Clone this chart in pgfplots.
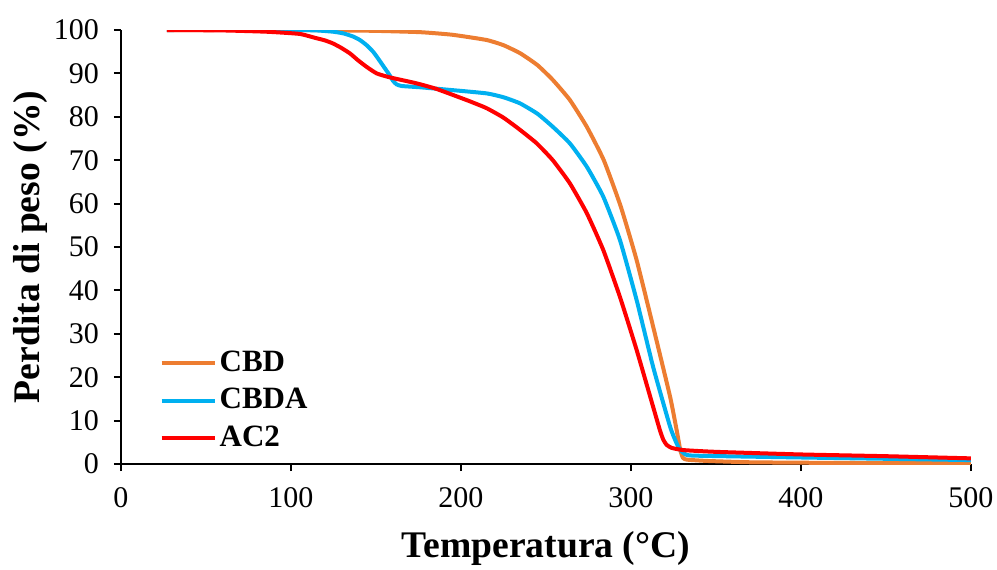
\documentclass[border=0pt]{standalone}
\usepackage{fontspec}
\setmainfont{Liberation Serif}
\usepackage{pgfplots}
\pgfplotsset{compat=1.18}

\definecolor{cbd}{RGB}{237,125,49}
\definecolor{cbda}{RGB}{0,176,240}
\definecolor{ac2}{RGB}{255,0,0}

\begin{document}
\begin{tikzpicture}
% page = axis box plus the margins of the reference
\useasboundingbox (-60.5pt,-52.5pt) rectangle (438pt,232pt);
\begin{axis}[
    at={(0pt,0pt)}, anchor=south west,
    scale only axis,
    width=425pt,
    height=217pt,
    xmin=0, xmax=500,
    ymin=0, ymax=100,
    xtick={0,100,...,500},
    ytick={0,10,...,100},
    axis lines*=left,
    axis line style={line width=1pt},
    tick align=outside,
    major tick length=3.5pt,
    tick style={line width=1pt, black},
    /pgf/number format/assume math mode=true,
    tick label style={font=\fontsize{15}{17}\selectfont},
    yticklabel style={xshift=-4pt},
    xticklabel style={yshift=-4.5pt},
    xlabel={Temperatura (°C)},
    ylabel={Perdita di peso (\%)},
    label style={font=\fontsize{18.8}{21}\selectfont\bfseries},
    xlabel style={at={(axis description cs:0.5,-0.194)}, anchor=center},
    ylabel style={at={(axis description cs:-0.107,0.5)}, anchor=center},
    legend cell align=left,
    legend style={draw=none, fill=none, inner sep=0pt,
        at={(rel axis cs:0.045,0.0195)}, anchor=south west,
        font=\fontsize{15.5}{17}\selectfont\bfseries,
        nodes={inner sep=1.5pt, text height=11pt, text depth=3pt}, row sep=1.75pt},
    legend image code/.code={\draw[#1, line width=2pt] (0pt,0pt) -- (26.5pt,0pt);},
    every axis plot/.append style={line width=2pt, line join=round, smooth, tension=0.3},
]
\addplot[cbd] coordinates {
(27,100) (50,100) (100,100) (130,99.9) (150,99.8) (176,99.5) (195,98.9) (215,97.7)
(225,96.5) (235,94.6) (245,91.9) (254,88.5) (264,83.9) (274,77.7) (284,70) (294,59.3)
(303.3,47) (313,31.7) (323,15.5) (327,7.5) (329,3.2) (330.6,1.4) (333,1.0) (345,0.7)
(370,0.4) (400,0.3) (450,0.2) (500,0.2)};
\addlegendentry{CBD}
\addplot[cbda] coordinates {
(27,100) (100,100) (115,99.9) (125,99.6) (131,99.2) (136.5,98.5) (140.5,97.7) (144.5,96.5)
(148.5,94.9) (152,93) (155,91.3) (158,89.6) (160,88.3) (162,87.5) (165,87.1) (176,86.8)
(193.5,86.2) (215,85.4) (225,84.5) (234.7,83.1) (245,80.7) (254,77.7) (264,73.9) (274,68.5)
(283.7,61.6) (293.5,51.6) (303.3,37.8) (313,22.4) (323,8.6) (327,4.6) (329,3.2) (332.7,2.1)
(340,1.9) (400,1.5) (450,1.2) (500,0.9)};
\addlegendentry{CBDA}
\addplot[ac2] coordinates {
(27,100) (60,99.9) (85.7,99.6) (105,99.1) (115,98.1) (120,97.6) (124.7,96.9) (129.5,95.9)
(134.7,94.6) (139.5,93.0) (144.5,91.5) (150.4,90) (158,89.1) (174,87.7) (185,86.5)
(195.5,85) (205,83.6) (215,82) (225,79.8) (234.7,77) (244.5,73.9) (254,70) (264,64.7)
(274,57.8) (283.7,49.3) (293.5,38.5) (303.3,26.3) (313,13.2) (317,7.8) (319,5.6) (321,4.4)
(324,3.7) (331,3.2) (350,2.8) (400,2.2) (450,1.8) (500,1.3)};
\addlegendentry{AC2}
\end{axis}
\end{tikzpicture}
\end{document}
